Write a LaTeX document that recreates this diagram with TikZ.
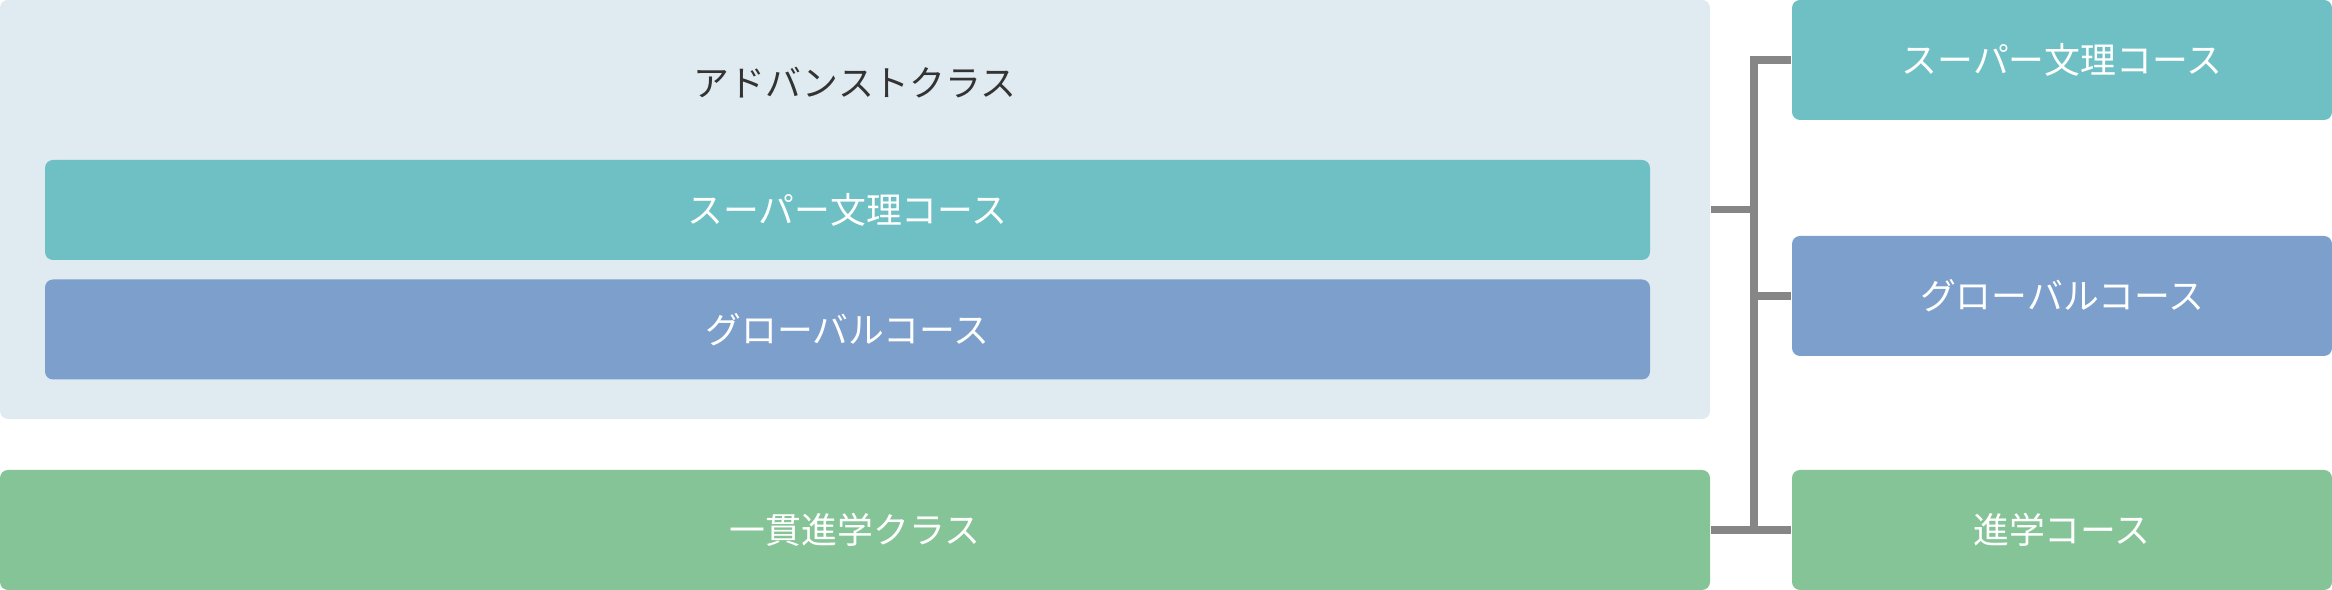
\documentclass[tikz,border=0pt]{standalone}
\usepackage{fontspec}
\setmainfont{Noto Sans CJK JP}
\usepackage{tikz}

\definecolor{advbg}{HTML}{DFEBF1}
\definecolor{superc}{HTML}{6EC0C4}
\definecolor{globalc}{HTML}{7D9FCC}
\definecolor{ikkanc}{HTML}{85C497}
\definecolor{linkc}{HTML}{868686}
\definecolor{titlec}{HTML}{333333}

\begin{document}
\begin{tikzpicture}[font=\fontsize{10.2}{12}\selectfont]
      \tikzstyle{link} = [draw=linkc, line width=2.1pt]
      \tikzstyle{course} = [rectangle, rounded corners=0.08cm, inner sep=0pt, text=white, text centered, minimum height=1.2cm]
      \useasboundingbox (0,0) rectangle (23.32,-5.90);
      \path[] node[course, fill=advbg, minimum width=17.10cm, minimum height=4.19cm] (adv) at (8.55cm,-2.095cm) {};
      \node (adv-title) [text=titlec] at (8.55cm,-0.83cm) {アドバンストクラス};
      \path[] node[course, fill=superc, minimum width=16.05cm, minimum height=1.0cm] (adv-super) at (8.475cm,-2.10cm) {スーパー文理コース};
      \path[] node[course, fill=globalc, minimum width=16.05cm, minimum height=1.0cm] (adv-global) at (8.475cm,-3.295cm) {グローバルコース};
      \path[] node[course, fill=ikkanc, minimum width=17.10cm] (ikkan) at (8.55cm,-5.30cm) {一貫進学クラス};
      \path[] node[course, fill=superc, minimum width=5.40cm] (super) at (20.62cm,-0.60cm) {スーパー文理コース};
      \path[] node[course, fill=globalc, minimum width=5.40cm] (global) at (20.62cm,-2.96cm) {グローバルコース};
      \path[] node[course, fill=ikkanc, minimum width=5.40cm] (shingaku) at (20.62cm,-5.30cm) {進学コース};
      \coordinate (j-adv) at (17.54cm,-2.095cm);
      \coordinate (j-mid) at (17.54cm,-2.96cm);
      \coordinate (j-bot) at (17.54cm,-5.30cm);
      \draw [link] (adv.east) -- (j-adv);
      \draw [link] (super.west) -| (j-bot);
      \draw [link] (j-mid) -- (global.west);
      \draw [link] (ikkan.east) -- (shingaku.west);
  \end{tikzpicture}
\end{document}
